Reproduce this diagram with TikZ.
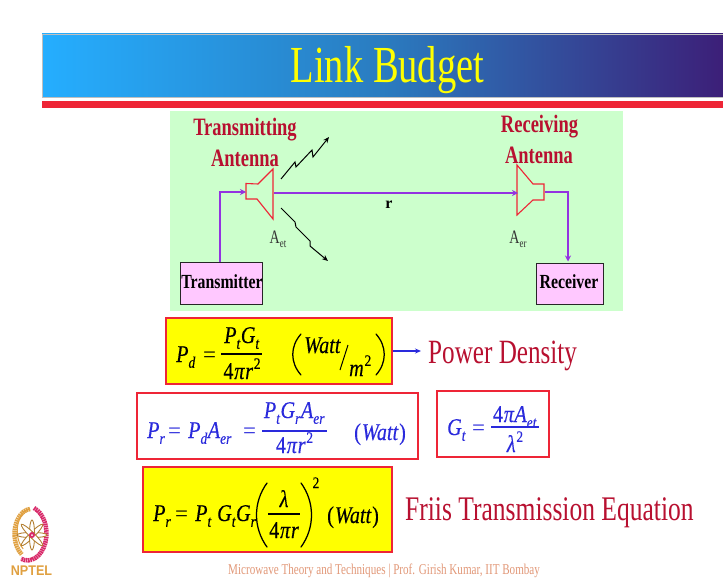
\documentclass[tikz,border=0pt]{standalone}
\usepackage{fontspec}
\setmainfont{Liberation Serif}
\newfontfamily\condf[FakeStretch=0.74]{Liberation Serif}
\newfontfamily\boxf[FakeStretch=0.79]{Liberation Serif}
\newfontfamily\mathf[FakeStretch=0.84,FakeBold=0.3]{Liberation Serif}
\newfontfamily\logof[FakeStretch=0.9]{Liberation Sans}
\usetikzlibrary{arrows.meta}
\definecolor{HeadL}{HTML}{25AEFF}
\definecolor{HeadM}{HTML}{2A7CC0}
\definecolor{HeadR}{HTML}{3C1F78}
\definecolor{lgreen}{HTML}{CCFFCC}
\definecolor{lpink}{HTML}{FFC8FF}
\definecolor{hred}{HTML}{EE2536}
\definecolor{dred}{HTML}{B81030}
\definecolor{wire}{HTML}{9333E0}
\definecolor{mblue}{HTML}{2A2ADC}
\definecolor{yel}{HTML}{FFFF00}
\definecolor{gold}{HTML}{E0A040}
\definecolor{rosy}{HTML}{D82868}
\definecolor{foot}{HTML}{E29878}
\newcommand\Sb[1]{\raisebox{-.24em}{\fontsize{16}{16}\selectfont #1}\kern.6pt}
\newcommand\Sp[1]{\kern.8pt\raisebox{.42em}{\fontsize{16}{16}\selectfont\upshape #1}}
\newcommand\FP{\upshape 4\kern.8pt\itshape π\kern.8pt r}
\newcommand\PAR[4]{\draw[line width=1.25pt,line cap=round] (#1,#3) .. controls (#2,{#3+(#4-#3)*.3}) and (#2,{#3+(#4-#3)*.7}) .. (#1,#4);}
\tikzset{
  x=1pt,y=-1pt,
  txt/.style={inner sep=0pt,anchor=base},
  txtw/.style={inner sep=0pt,anchor=base west},
  mth/.style={font=\mathf\itshape\fontsize{24}{26}\selectfont},
  eqs/.style={txtw,font=\fontsize{23}{26}\selectfont},
  head/.style={txt,text=dred,font=\condf\bfseries\fontsize{25}{28}\selectfont},
  boxlab/.style={txt,font=\fontsize{20}{22}\selectfont\boxf\bfseries},
  horn/.style={draw=hred,line width=1.1pt,line join=miter,fill=lgreen},
  wireline/.style={draw=wire,line width=1.2pt},
  bolt/.style={draw=black,line width=1pt,-{Stealth[length=6pt,width=5pt]}},
  sysbox/.style={draw=black!85,line width=.9pt,fill=lpink,inner sep=0pt},
  redbox/.style={draw=hred,line width=1.2pt},
  fracline/.style={line width=1.2pt},
}
\begin{document}
\begin{tikzpicture}
\useasboundingbox (0,0) rectangle (723,578);
\fill[white] (0,0) rectangle (723,578);
% title band
\shade[left color=HeadL,right color=HeadR,middle color=HeadM,draw=black!25,line width=.6pt] (42,34) rectangle (723,97);
\fill[hred] (42,100.5) rectangle (723,108);
\node[txt,text=yel,font=\condf\fontsize{52}{56}\selectfont] (title) at (387.5,83) {Link Budget};
% green panel
\fill[lgreen] (170,111) rectangle (623,311);
\node[head] (t1) at (245,135) {Transmitting};
\node[head] (t2) at (245,166) {Antenna};
\node[head] (r1) at (539.5,132) {Receiving};
\node[head] (r2) at (539,163) {Antenna};
% system boxes
\node[sysbox,minimum width=82pt,minimum height=42pt] (tx) at (221.5,283) {};
\node[boxlab] (txl) at (222,288.5) {Transmitter};
\node[sysbox,minimum width=67pt,minimum height=41pt] (rx) at (569.5,283.5) {};
\node[boxlab] (rxl) at (569,288.5) {Receiver};
% antennas
\draw[horn] (246,183.5) -- (258,184) -- (273,169) -- (273,219) -- (257,199) -- (246,199) -- cycle;
\draw[horn] (517,165) -- (533,184) -- (544,184) -- (544,200) -- (533,200) -- (517,215) -- cycle;
\coordinate (txin) at (246,192);
\coordinate (txout) at (274,193);
\coordinate (rxin) at (518,193);
\coordinate (rxout) at (544.5,192);
\coordinate (txup) at (220,192);
\coordinate (rxcor) at (568,192);
\coordinate (rxend) at (568,261.5);
\draw[wireline,-{Stealth[length=6pt,width=6pt]}] (220,262) -- (txup) -- (txin);
\draw[wireline,-{Stealth[length=6pt,width=6pt]}] (txout) -- (rxin);
\draw[wireline,-{Stealth[length=6pt,width=6pt]}] (rxout) -- (rxcor) -- (rxend);
\node[txt,font=\bfseries\fontsize{16}{18}\selectfont] (rl) at (389,208) {r};
\node[txt,font=\condf\fontsize{19}{20}\selectfont,text=black!80] (aet) at (278,243) {A\raisebox{-.25em}{\fontsize{12}{12}\selectfont et}};
\node[txt,font=\condf\fontsize{19}{20}\selectfont,text=black!80] (aer) at (518,243) {A\raisebox{-.25em}{\fontsize{12}{12}\selectfont er}};
% lightning
\draw[bolt] (281,179) -- (295,162) -- (296,167) -- (312,150) -- (313,157) -- (329,137);
\draw[bolt] (281,208) -- (295,222) -- (296,227) -- (310,241) -- (310,246) -- (328,261);
% box 1
\node[redbox,fill=yel,minimum width=226pt,minimum height=66pt,inner sep=0pt] (b1) at (279,351) {};
\node[txtw,mth] (e1a) at (176,362) {P\Sb{d}};
\node[eqs] (e1b) at (203,362) {=};
\node[txt,mth] (e1c) at (242,343) {P\Sb{t}G\Sb{t}};
\draw[fracline] (221,354) -- (262,354);
\node[txt,mth] (e1d) at (242,379) {\FP\Sp{2}};
\PAR{301}{290}{334}{375}
\node[txtw,mth] (e1e) at (304,353) {Watt};
\draw[line width=1pt] (348,345) -- (340,370);
\node[txtw,mth] (e1f) at (349,376) {m\Sp{2}};
\PAR{376}{387}{334}{375}
% power density
\draw[draw=mblue,line width=1.1pt,-{Stealth[length=6pt,width=5pt]}] (b1.east |- 0,351) -- (421,351);
\node[txtw,text=dred,font=\condf\fontsize{34}{36}\selectfont] (pd) at (428,363) {Power Density};
% box 2
\node[redbox,fill=white,minimum width=281pt,minimum height=66pt,inner sep=0pt] (b2) at (277.5,426) {};
\begin{scope}[text=mblue,color=mblue]
\node[txtw,mth] (e2a) at (147,438) {P\Sb{r}};
\node[eqs] (e2b) at (168,438) {=};
\node[txtw,mth] (e2c) at (188,438) {P\Sb{d}A\Sb{er}};
\node[eqs] (e2d) at (243,438) {=};
\node[txt,mth] (e2e) at (294.5,418) {P\Sb{t}G\Sb{r}A\Sb{er}};
\draw[fracline,mblue] (262,431) -- (327,431);
\node[txt,mth] (e2f) at (294.5,453) {\FP\Sp{2}};
\node[txtw,mth] (e2g) at (354,440) {\upshape(\kern1pt\itshape Watt\kern1pt\upshape)};
\end{scope}
% box 3
\node[redbox,fill=white,minimum width=112pt,minimum height=66pt,inner sep=0pt] (b3) at (493,424) {};
\begin{scope}[text=mblue,color=mblue]
\node[txtw,mth] (e3a) at (447,435) {G\Sb{t}};
\node[eqs] (e3b) at (472,435) {=};
\node[txt,mth] (e3c) at (515,422) {\upshape 4\kern.8pt\itshape π\kern.5pt A\Sb{et}};
\draw[fracline,mblue] (491,427) -- (539,427);
\node[txt,mth] (e3d) at (515,452) {λ\Sp{2}};
\end{scope}
% box 4
\node[redbox,fill=yel,minimum width=249pt,minimum height=85pt,inner sep=0pt] (b4) at (267.5,509.5) {};
\node[txtw,mth] (e4a) at (153,521) {P\Sb{r}};
\node[eqs] (e4b) at (175,521) {=};
\node[txtw,mth] (e4c) at (195,521) {P\Sb{t}};
\node[txtw,mth] (e4d) at (217,521) {G\Sb{t}G\Sb{r}};
\PAR{267}{253}{483}{547}
\node[txt,mth] (e4e) at (284,507) {λ};
\draw[fracline] (268,514) -- (300,514);
\node[txt,mth] (e4f) at (284,538) {\FP};
\PAR{301}{315}{483}{547}
\node[txt,mth] (e4g) at (316,488) {\upshape\fontsize{16}{16}\selectfont 2};
\node[txtw,mth] (e4h) at (327,523) {\upshape(\kern1pt\itshape Watt\kern1pt\upshape)};
\node[txtw,text=dred,font=\condf\fontsize{34.5}{36}\selectfont] (fr) at (405,520) {Friis Transmission Equation};
% footer
\node[txtw,text=foot,font=\condf\fontsize{15}{16}\selectfont] (ft) at (228,574) {Microwave Theory and Techniques | Prof. Girish Kumar, IIT Bombay};
% logo
\begin{scope}[shift={(32,535)}]
\draw[gold,line width=4.5pt,dash pattern=on 1.6pt off .6pt] (-2,-26) arc[start angle=-95,end angle=-235,x radius=17,y radius=25];
\draw[gold,line width=1pt] (-2,-26) arc[start angle=-95,end angle=-235,x radius=14,y radius=22];
\draw[rosy,line width=4.5pt,dash pattern=on 1.6pt off .6pt] (2,-27) arc[start angle=-70,end angle=110,x radius=19,y radius=27];
\foreach \a in {0,45,...,135}{
  \draw[gold!80!black,line width=.9pt,rotate=\a,fill=white] (0,0) ellipse[x radius=15,y radius=2.6];
}
\fill[rosy] (0,0) circle[radius=3];
\fill[white] (0,0) circle[radius=1];
\end{scope}
\node[txt,text=gold,font=\logof\bfseries\fontsize{14}{14}\selectfont] (logo) at (31.5,575) {NPTEL};
\end{tikzpicture}
\end{document}
